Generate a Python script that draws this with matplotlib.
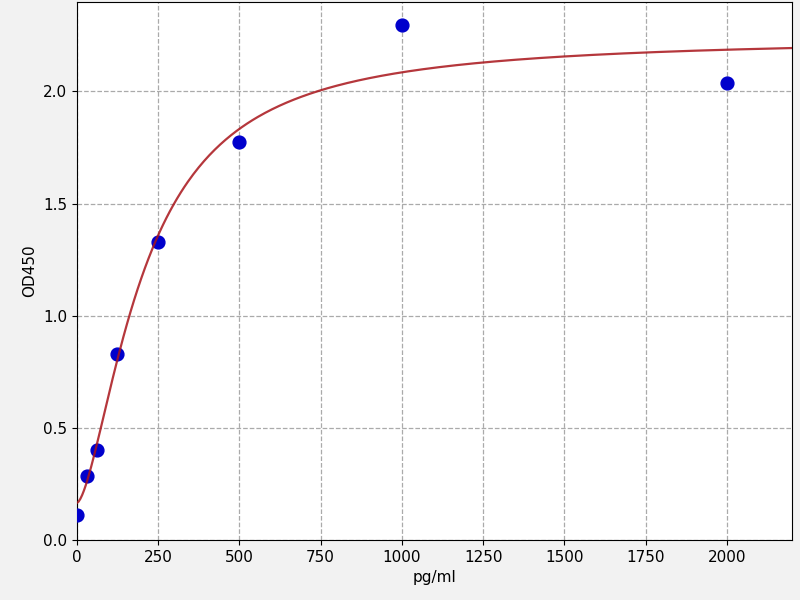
import numpy as np
import matplotlib.pyplot as plt

# standard points
conc = [0, 31.25, 62.5, 125, 250, 500, 1000, 2000]
od = [0.11, 0.285, 0.40, 0.83, 1.33, 1.775, 2.295, 2.04]

# 4PL fit parameters (bottom, top, midpoint, slope)
fit_a = 0.165
fit_d = 2.24
fit_c = 207.0
fit_b = 1.6

def four_pl(x):
	return fit_d + (fit_a - fit_d) / (1 + (x / fit_c) ** fit_b)

fig = plt.figure(figsize=(8, 6), dpi=100, facecolor='#f2f2f2')
ax = fig.add_axes([0.096, 0.1, 0.894, 0.897])

ax.scatter(conc, od, s=85, color='#0000cc', zorder=3)
xs = np.linspace(0, 2200, 400)
ax.plot(xs, four_pl(xs), color='#a8141a', lw=1.6, alpha=0.85, zorder=4)

ax.set_xlim(0, 2200)
ax.set_ylim(0, 2.4)
ax.set_xticks([0, 250, 500, 750, 1000, 1250, 1500, 1750, 2000])
ax.set_yticks([0.0, 0.5, 1.0, 1.5, 2.0])
ax.grid(True, linestyle='--', color='#aaaaaa', lw=0.9)
ax.set_axisbelow(True)
ax.set_xlabel('pg/ml', fontsize=11)
ax.set_ylabel('OD450', fontsize=11)
ax.tick_params(labelsize=11)

fig.savefig('out.png', dpi=100, facecolor=fig.get_facecolor())
